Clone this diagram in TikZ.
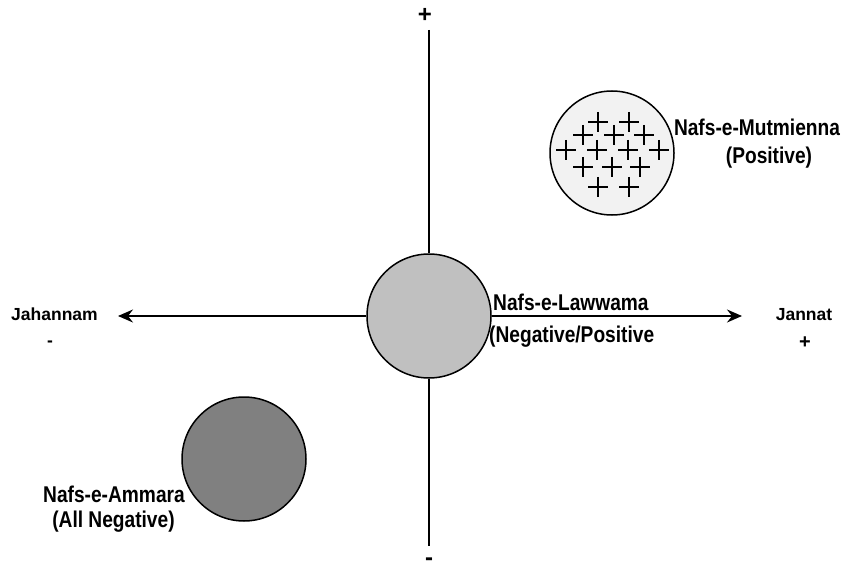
\documentclass[tikz,border=0pt]{standalone}
\usepackage{fontspec}
\setmainfont{Liberation Sans}
\newfontfamily\labelfont{Liberation Sans}[FakeStretch=0.84]
\usetikzlibrary{arrows.meta}

\tikzset{
  soul/.style={circle, draw=black, line width=1.5pt, minimum size=124pt, inner sep=0pt},
  axis/.style={draw=black, line width=1.6pt},
  axisarrow/.style={axis, -{Stealth[length=15pt, width=13pt, inset=5pt]}},
  biglabel/.style={font=\labelfont\bfseries\fontsize{22.8}{25}\selectfont, inner sep=0pt},
  smalllabel/.style={font=\bfseries\fontsize{17.5}{20}\selectfont, inner sep=0pt},
  signlabel/.style={font=\bfseries\fontsize{24}{26}\selectfont, inner sep=0pt},
  plusmark/.style={draw=black, line width=1.3pt}
}

\begin{document}
\begin{tikzpicture}[x=1pt, y=-1pt]
  % canvas
  \fill[white] (0,0) rectangle (867,572);
  \useasboundingbox (0,0) rectangle (867,572);

  % the three states of the nafs
  \node[soul, fill={rgb,255:red,192;green,192;blue,192}] (lawwama) at (429,316) {};
  \node[soul, fill={rgb,255:red,242;green,242;blue,242}] (mutmienna) at (612,153) {};
  \node[soul, fill={rgb,255:red,128;green,128;blue,128}] (ammara) at (244,459) {};

  % axis end points
  \coordinate (topend) at (429,30);
  \coordinate (botend) at (429,546);
  \coordinate (leftend) at (118,316);
  \coordinate (rightend) at (742,316);

  % axes
  \draw[axis] (topend) -- (lawwama);
  \draw[axis] (lawwama) -- (botend);
  \draw[axisarrow] (lawwama) -- (leftend);
  \draw[axisarrow] (lawwama) -- (rightend);

  % plus marks inside the positive soul
  \foreach \px/\py in {598/122, 629/122,
                       583/135, 614/135, 644/135,
                       566/150, 597/150, 628/150, 659/150,
                       583/167, 612/167, 640/167,
                       598/187, 629/187} {
    \draw[plusmark] (\px-10,\py) -- (\px+10,\py) (\px,\py-10) -- (\px,\py+10);
  }

  % axis labels
  \node[signlabel] (plustop) at (425,15) {+};
  \node[signlabel, anchor=base] (minusbot) at (429,565) {-};
  \node[smalllabel, anchor=base] (jahannam) at (54.5,320) {Jahannam};
  \node[smalllabel, anchor=base] (jahminus) at (50,346) {-};
  \node[smalllabel, anchor=base] (jannat) at (804,320) {Jannat};
  \node[signlabel, font=\bfseries\fontsize{20}{22}\selectfont, anchor=base] (jannplus) at (805,348) {+};

  % state labels
  \node[biglabel, anchor=base] (mutname) at (757,136) {Nafs-e-Mutmienna};
  \node[biglabel, anchor=base] (mutsub) at (769,164) {(Positive)};
  \node[biglabel, anchor=base west] (lawname) at (493,310) {Nafs-e-Lawwama};
  \node[biglabel, anchor=base west] (lawsub) at (489,342) {(Negative/Positive};
  \node[biglabel, anchor=base] (ammname) at (114,502) {Nafs-e-Ammara};
  \node[biglabel, anchor=base] (ammsub) at (113.5,527) {(All Negative)};
\end{tikzpicture}
\end{document}
